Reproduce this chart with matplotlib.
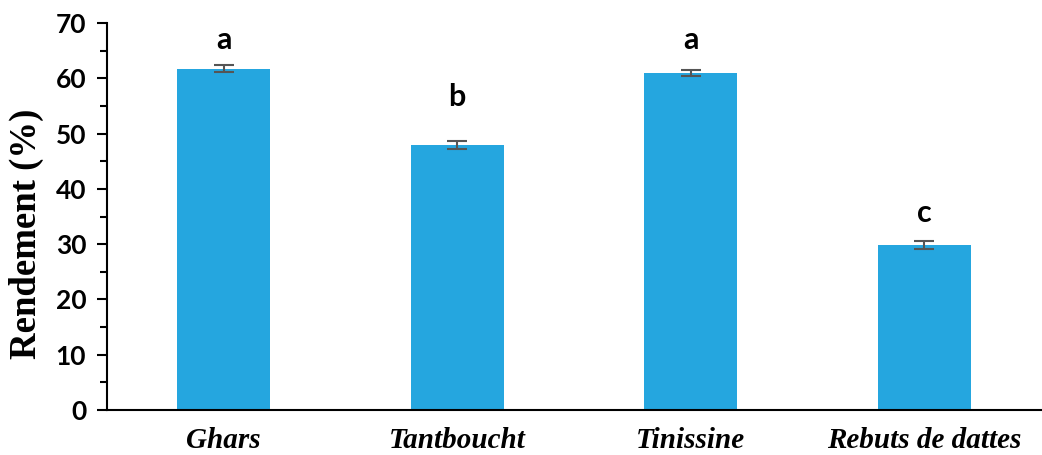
import matplotlib
matplotlib.use('Agg')
import matplotlib.pyplot as plt
from matplotlib.ticker import MultipleLocator

# data
categories = ['Ghars', 'Tantboucht', 'Tinissine', 'Rebuts de dattes']
rendement = [61.8, 47.9, 61.0, 29.9]
erreurs = [0.7, 0.7, 0.6, 0.7]
lettres = ['a', 'b', 'a', 'c']
lettre_y = [67.0, 56.6, 67.0, 35.7]

BAR_COLOR = '#25A6DF'

fig = plt.figure(figsize=(10.42, 4.55), dpi=100)
ax = fig.add_axes([0.1027, 0.099, 0.8963, 0.85])

x = range(len(categories))
ax.bar(x, rendement, width=0.4, color=BAR_COLOR,
       yerr=erreurs, capsize=7,
       error_kw=dict(ecolor='#555555', elinewidth=1.5, capthick=1.5))

for i, (l, y) in enumerate(zip(lettres, lettre_y)):
    ax.text(i, y, l, ha='center', va='center', fontsize=22,
            fontweight='bold', family='Lato')

ax.set_xlim(-0.5, 3.5)
ax.set_ylim(0, 70)
ax.yaxis.set_major_locator(MultipleLocator(10))
ax.yaxis.set_minor_locator(MultipleLocator(5))
ax.tick_params(axis='y', which='major', direction='out', length=7, width=1.5, pad=8)
ax.tick_params(axis='y', which='minor', direction='out', length=5, width=1.5)
ax.tick_params(axis='x', length=0, pad=12)

ax.set_xticks(list(x))
ax.set_xticklabels(categories, fontsize=21, fontweight='bold',
                   style='italic', family='Liberation Serif')
for lab in ax.get_yticklabels():
    lab.set_family('Lato')
    lab.set_fontweight('bold')
    lab.set_fontsize(19)

ax.set_ylabel('Rendement (%)', fontsize=26.5, fontweight='bold',
              family='Liberation Serif', labelpad=8)
ax.yaxis.label.set_y(0.455)  # label sits a bit below the axis middle

ax.spines['top'].set_visible(False)
ax.spines['right'].set_visible(False)
ax.spines['left'].set_linewidth(1.5)
ax.spines['bottom'].set_linewidth(1.5)

plt.savefig('out.png', dpi=100)
